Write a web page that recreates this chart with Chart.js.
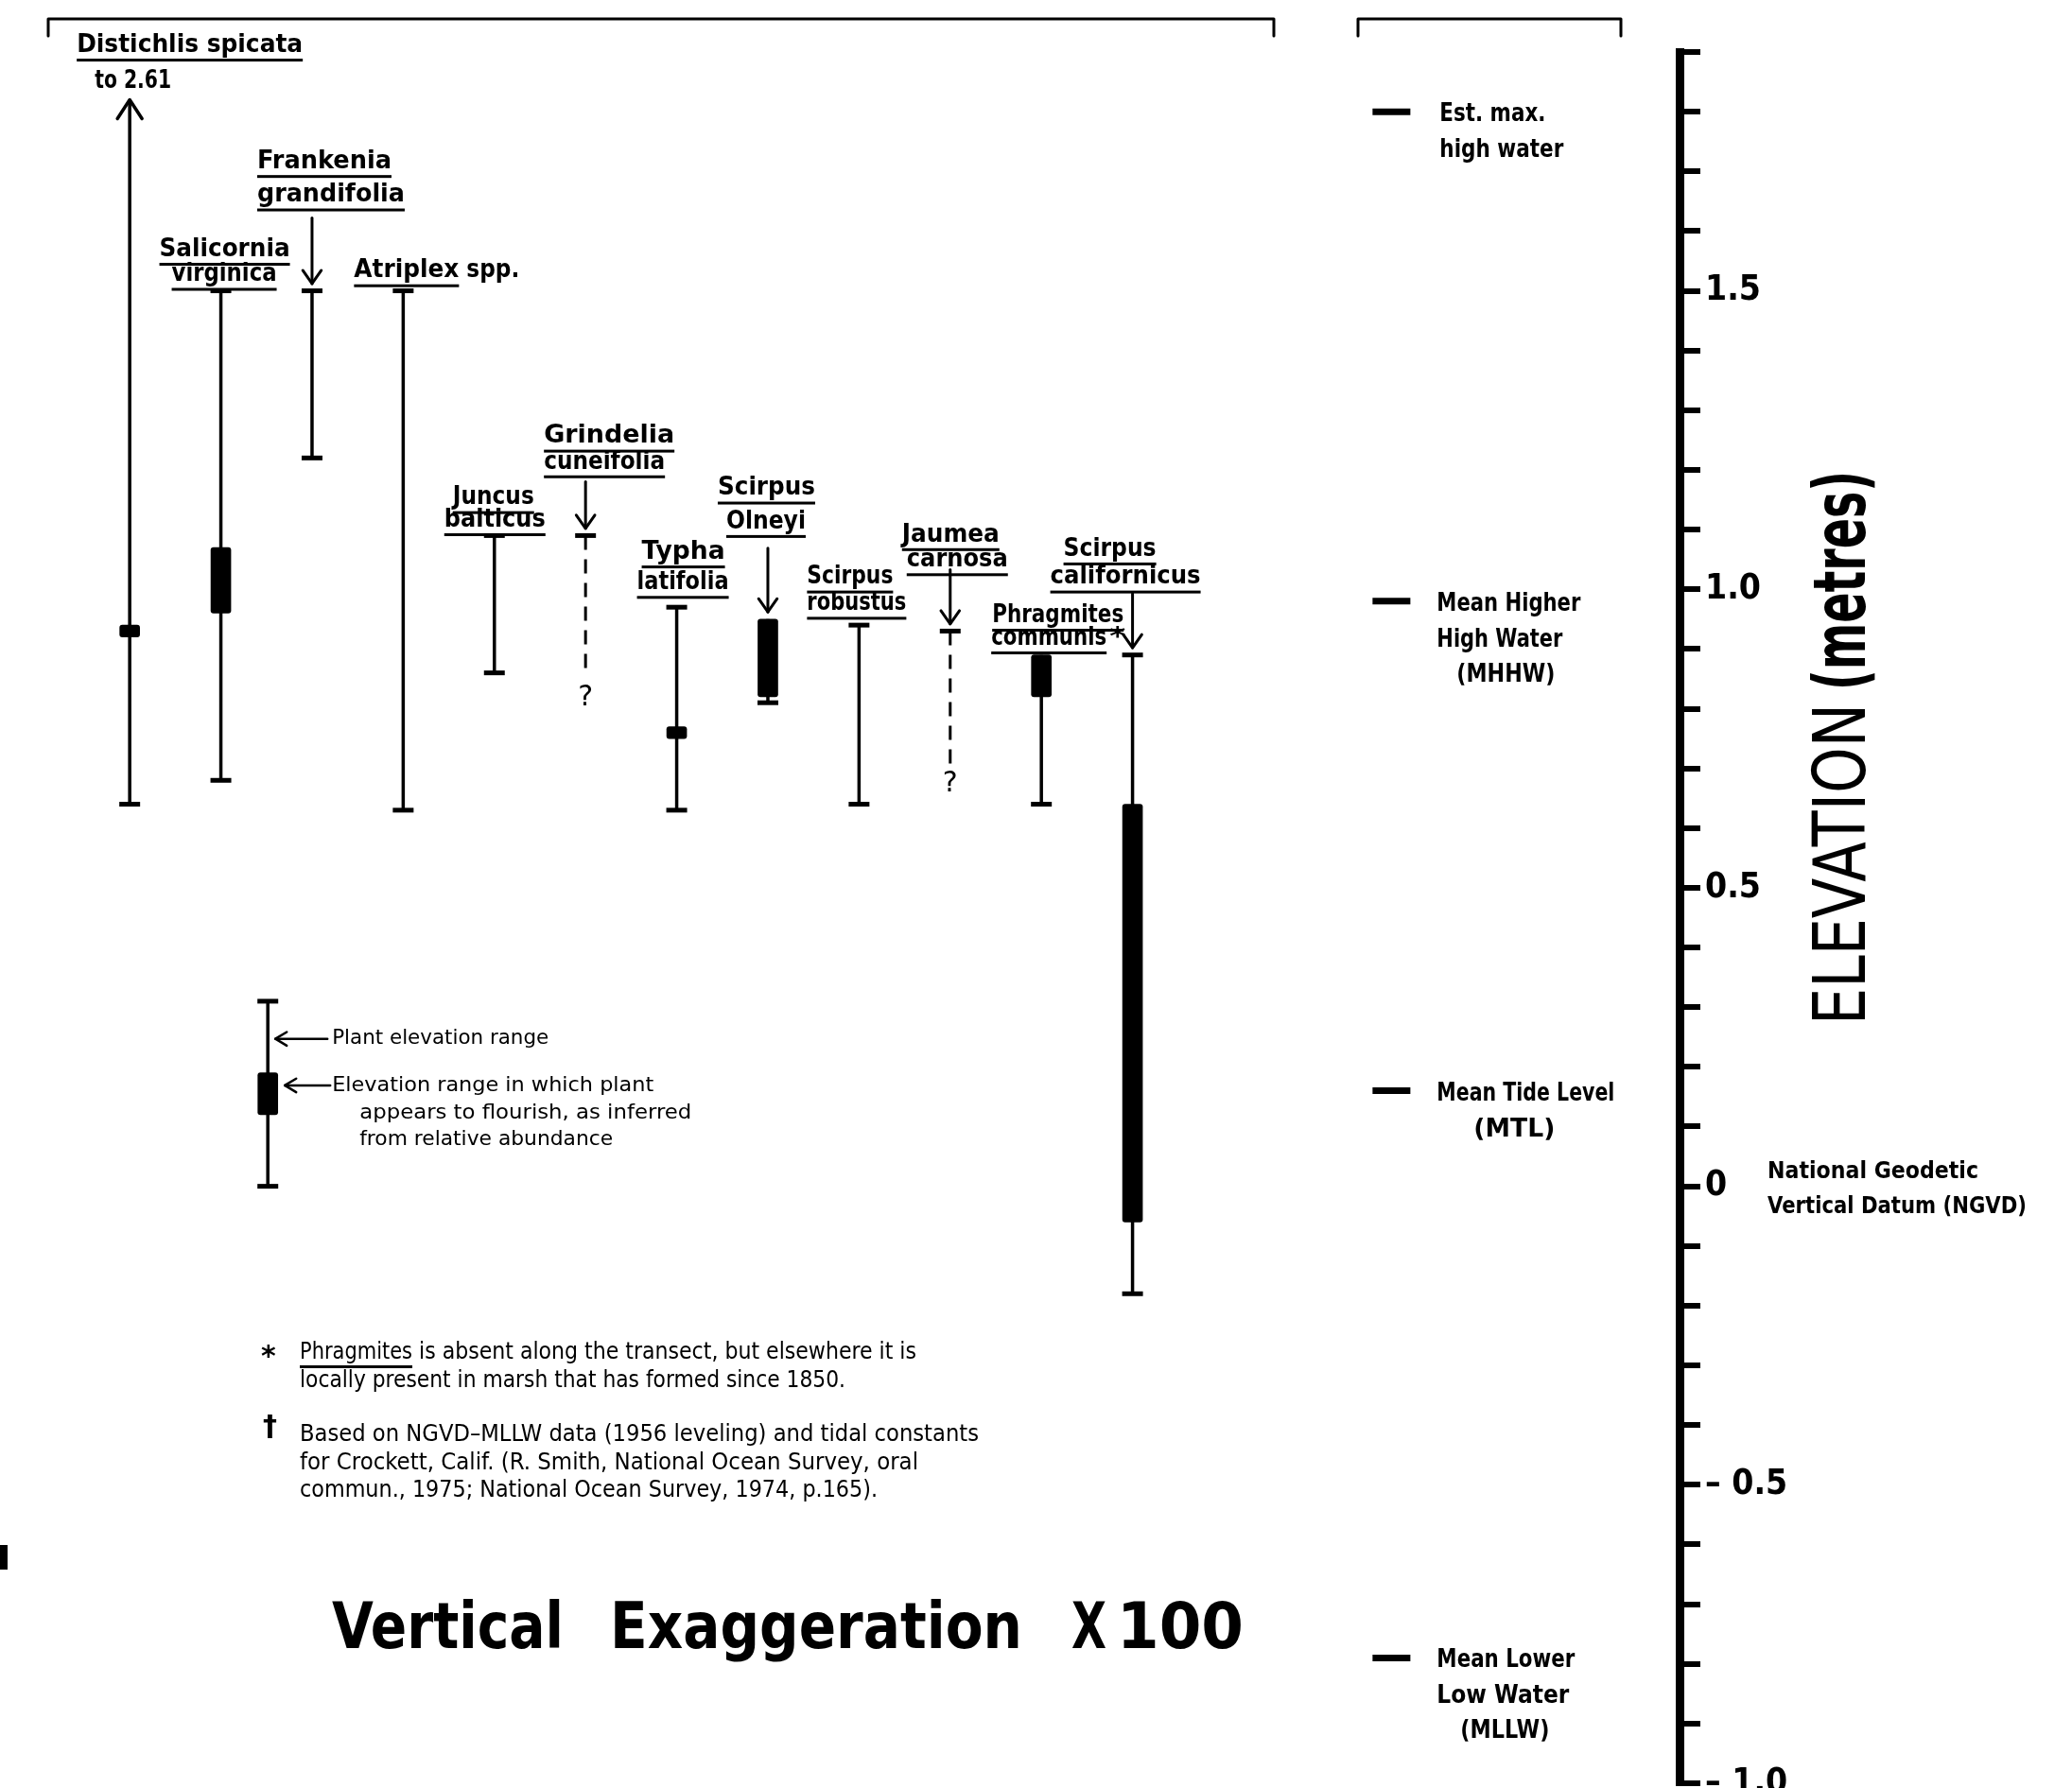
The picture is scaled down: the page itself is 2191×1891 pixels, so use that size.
<!DOCTYPE html>
<html>
<head>
<meta charset="utf-8">
<script src="https://cdn.jsdelivr.net/npm/chart.js@4/dist/chart.umd.min.js"></script>
<style>
html,body{margin:0;padding:0;background:#fff;}
#wrap{width:2191px;height:1891px;position:relative;overflow:hidden;background:#fff;}
canvas{display:block;}
</style>
</head>
<body>
<div id="wrap"><canvas id="c" width="2191" height="1891"></canvas></div>
<script>
// ---------------- DATA ----------------
const species = ['Distichlis spicata','Salicornia virginica','Frankenia grandifolia','Atriplex spp.',
  'Juncus balticus','Grindelia cuneifolia','Typha latifolia','Scirpus Olneyi','Scirpus robustus',
  'Jaumea carnosa','Phragmites communis','Scirpus californicus'];
// plant elevation range (metres, NGVD)
const rangeLow     = [0.64, 0.68, 1.22, 0.63, 0.86, null, 0.63, 0.81, 0.64, null, 0.64, -0.18];
const rangeHigh    = [2.61, 1.50, 1.50, 1.50, 1.09, 1.09, 0.97, 0.95, 0.94, 0.93, 0.89, 0.89];
// uncertain lower limit (dashed, "?")
const uncertainLow = [null, null, null, null, null, 0.86, null, null, null, 0.70, null, null];
// range in which plant appears to flourish
const flourishLow  = [0.92, 0.96, null, null, null, null, 0.75, 0.82, null, null, 0.82, -0.06];
const flourishHigh = [0.94, 1.07, null, null, null, null, 0.77, 0.95, null, null, 0.89, 0.64];
// tidal datums
const datumNames  = ['Est. max. high water','Mean Higher High Water (MHHW)','Mean Tide Level (MTL)','Mean Lower Low Water (MLLW)'];
const datumLines  = [['Est. max.','high water'],['Mean Higher','High Water','(MHHW)'],['Mean Tide Level','(MTL)'],['Mean Lower','Low Water','(MLLW)']];
const datumValues = [1.80, 0.98, 0.16, -0.79];
// y axis ticks
const yTickValues = [1.5, 1.0, 0.5, 0, -0.5, -1.0];
const yTickLabels = ['1.5', '1.0', '0.5', '0', '\u2013 0.5', '\u2013 1.0'];
// legend sample (explanation)
const legendRange    = [0.0, 0.31];
const legendFlourish = [0.12, 0.19];

// ---------------- LAYOUT / STYLE ----------------
const Y_MIN = -1.0, Y_MAX = 1.90;
const X_MIN = -1.4227, X_MAX = 17.0;
const DATUM_X = 13.84;
const LEGEND_X = 1.515;
const OFFSCALE_ARROW_TIP = 1.82;
const SPFONT = 'bold 26px "DejaVu Sans"';
// species label lines: [text, left offset px from column, width px, y value, underline]
const speciesLabels = [
  [['Distichlis spicata',-56,239,1.911,1],['to ' + rangeHigh[0].toFixed(2),-37,81,1.851,0]],
  [['Salicornia',-65,138,1.569,1],['virginica',-52,111,1.527,1]],
  [['Frankenia',-58,142,1.716,1],['grandifolia',-58,156,1.660,1]],
  [['Atriplex',-52,111,1.533,1],['spp.',67,56,1.533,0]],
  [['Juncus',-44,86,1.153,1],['balticus',-53,107,1.116,1]],
  [['Grindelia',-44,138,1.256,1],['cuneifolia',-44,128,1.213,1]],
  [['Typha',-37,88,1.062,1],['latifolia',-42,97,1.011,1]],
  [['Scirpus',-53,103,1.169,1],['Olneyi',-44,84,1.113,1]],
  [['Scirpus',-55,91,1.020,1],['robustus',-55,105,0.976,1]],
  [['Jaumea',-51,103,1.091,1],['carnosa',-46,107,1.049,1]],
  [['Phragmites',-52,139,0.956,1],['communis',-53,122,0.918,1],['*',72,17,0.918,0]],
  [['Scirpus',-73,98,1.067,1],['californicus',-87,159,1.020,1]]
];
// down-arrow start (value) from label to top of range
const arrowFrom = [null,null,1.622,null,null,1.18,null,1.069,null,1.033,null,0.993];
const questionAt = [null,null,null,null,null,0.818,null,null,null,0.673,null,null];
const datumTextLayout = [
  [[51,112],[51,131]],
  [[48,152],[48,133],[69,104]],
  [[48,188],[87,86]],
  [[48,146],[48,140],[73,94]]
];
const datumLineDy = [3, 41, 78];

// ---------------- DATASETS built from the arrays ----------------
const rangeData = [], uncData = [], capData = [], barData = [];
species.forEach((s, i) => {
  const top = Math.min(rangeHigh[i], OFFSCALE_ARROW_TIP);
  if (rangeLow[i] !== null) {
    rangeData.push({x: i, y: rangeLow[i]}, {x: i, y: top}, {x: i, y: null});
    capData.push({x: i, y: rangeLow[i]});
  }
  if (uncertainLow[i] !== null) {
    uncData.push({x: i, y: rangeHigh[i]}, {x: i, y: uncertainLow[i]}, {x: i, y: null});
  }
  if (rangeHigh[i] <= Y_MAX && flourishHigh[i] !== rangeHigh[i]) capData.push({x: i, y: rangeHigh[i]});
  if (flourishLow[i] !== null) barData.push({x: i, y: [flourishLow[i], flourishHigh[i]]});
});
// legend sample drawn through the same scales
rangeData.push({x: LEGEND_X, y: legendRange[0]}, {x: LEGEND_X, y: legendRange[1]}, {x: LEGEND_X, y: null});
capData.push({x: LEGEND_X, y: legendRange[0]}, {x: LEGEND_X, y: legendRange[1]});
barData.push({x: LEGEND_X, y: legendFlourish});
const datumData = datumValues.map(v => ({x: DATUM_X, y: v}));

// ---------------- helpers ----------------
function fitText(ctx, s, x, y, w, font, ul, ulOff) {
  ctx.save();
  ctx.font = font; ctx.textBaseline = 'middle'; ctx.textAlign = 'left'; ctx.fillStyle = '#000';
  const m = ctx.measureText(s).width;
  ctx.translate(x, y); ctx.scale(w / m, 1); ctx.fillText(s, 0, 0);
  ctx.restore();
  if (ul) { ctx.fillStyle = '#000'; ctx.fillRect(x, y + (ulOff || 15), w, 3); }
}
function arrowV(ctx, x, y1, y2, head) { // from y1 to y2, head at y2
  const dir = y2 > y1 ? 1 : -1;
  ctx.beginPath(); ctx.moveTo(x, y1); ctx.lineTo(x, y2); ctx.stroke();
  ctx.beginPath(); ctx.moveTo(x - head * 0.7, y2 - dir * head); ctx.lineTo(x, y2); ctx.lineTo(x + head * 0.7, y2 - dir * head); ctx.stroke();
}
function arrowH(ctx, x1, x2, y, head) { // head at x2 (pointing left)
  ctx.beginPath(); ctx.moveTo(x1, y); ctx.lineTo(x2, y); ctx.stroke();
  ctx.beginPath(); ctx.moveTo(x2 + head, y - head * 0.6); ctx.lineTo(x2, y); ctx.lineTo(x2 + head, y + head * 0.6); ctx.stroke();
}

const annotations = {
  id: 'annotations',
  afterDatasetsDraw(chart) {
    const ctx = chart.ctx, xs = chart.scales.x, ys = chart.scales.y;
    const X = u => xs.getPixelForValue(u), Y = v => ys.getPixelForValue(v);
    ctx.save();
    ctx.strokeStyle = '#000'; ctx.fillStyle = '#000'; ctx.lineCap = 'round'; ctx.lineJoin = 'round';

    // top brackets (frame remnants)
    ctx.lineWidth = 3;
    [[51, 1347], [1436, 1714]].forEach(([a, b]) => {
      ctx.beginPath(); ctx.moveTo(a, 38); ctx.lineTo(a, 20); ctx.lineTo(b, 20); ctx.lineTo(b, 38); ctx.stroke();
    });
    ctx.fillRect(0, 1634, 8, 26);

    // species labels
    species.forEach((s, i) => {
      const cx = X(i);
      speciesLabels[i].forEach(([t, dx, w, v, u]) => fitText(ctx, t, cx + dx, Y(v), w, SPFONT, u, 14));
      ctx.lineWidth = 3;
      if (arrowFrom[i] !== null) arrowV(ctx, cx, Y(arrowFrom[i]), Y(rangeHigh[i] + 0.012), 14);
      if (questionAt[i] !== null) {
        ctx.font = '30px "DejaVu Sans"'; ctx.textAlign = 'center'; ctx.textBaseline = 'middle';
        ctx.fillText('?', cx, Y(questionAt[i]));
      }
      if (rangeHigh[i] > Y_MAX) { // off-scale: up arrow
        const tip = Y(OFFSCALE_ARROW_TIP);
        ctx.lineWidth = 3.5;
        ctx.beginPath(); ctx.moveTo(cx - 13, tip + 20); ctx.lineTo(cx, tip); ctx.lineTo(cx + 13, tip + 20); ctx.stroke();
      }
    });

    // legend text
    const lx = X(LEGEND_X);
    ctx.lineWidth = 2.5;
    arrowH(ctx, lx + 63, lx + 8, Y(0.247), 12);
    arrowH(ctx, lx + 66, lx + 18, Y(0.169), 12);
    const LF = '22px "DejaVu Sans Condensed", "DejaVu Sans"';
    fitText(ctx, 'Plant elevation range', lx + 68, Y(0.247), 229, LF);
    fitText(ctx, 'Elevation range in which plant', lx + 68, Y(0.169), 340, LF);
    fitText(ctx, 'appears to flourish, as inferred', lx + 97, Y(0.122), 351, LF);
    fitText(ctx, 'from relative abundance', lx + 97, Y(0.078), 268, LF);

    // datum labels
    const DF = 'bold 27px "DejaVu Sans"';
    datumLines.forEach((lines, k) => {
      const dx0 = X(DATUM_X), dy0 = Y(datumValues[k]);
      lines.forEach((t, j) => fitText(ctx, t, dx0 + datumTextLayout[k][j][0], dy0 + datumLineDy[j], datumTextLayout[k][j][1], DF));
    });
    // NGVD label next to 0
    const y0 = Y(0);
    fitText(ctx, 'National Geodetic', 1869, y0 - 15, 223, 'bold 25px "DejaVu Sans"');
    fitText(ctx, 'Vertical Datum (NGVD)', 1869, y0 + 22, 274, 'bold 25px "DejaVu Sans"');

    // axis title (rotated, reads bottom to top)
    ctx.save();
    ctx.translate(1952, 1084); ctx.rotate(-Math.PI / 2);
    fitText(ctx, 'ELEVATION', 0, 0, 340, '76px "DejaVu Sans"');
    fitText(ctx, '(metres)', 354, 0, 232, 'bold 76px "DejaVu Sans"');
    ctx.restore();

    // footnotes
    const FF = '24px "DejaVu Sans Condensed", "DejaVu Sans"';
    ctx.font = 'bold 30px "DejaVu Sans"'; ctx.textAlign = 'left'; ctx.textBaseline = 'middle';
    ctx.fillText('*', 276, 1436);
    ctx.fillText('\u2020', 278, 1510);
    fitText(ctx, 'Phragmites', 317, 1431, 119, FF, 1, 13);
    fitText(ctx, ' is absent along the transect, but elsewhere it is', 436, 1431, 533, FF);
    fitText(ctx, 'locally present in marsh that has formed since 1850.', 317, 1461, 577, FF);
    fitText(ctx, 'Based on NGVD\u2013MLLW data (1956 leveling) and tidal constants', 317, 1518, 718, FF);
    fitText(ctx, 'for Crockett, Calif. (R. Smith, National Ocean Survey, oral', 317, 1548, 654, FF);
    fitText(ctx, 'commun., 1975; National Ocean Survey, 1974, p.165).', 317, 1577, 611, FF);

    // big caption
    const TF = 'bold 68px "DejaVu Sans"';
    fitText(ctx, 'Vertical', 351, 1725, 245, TF);
    fitText(ctx, 'Exaggeration', 645, 1725, 436, TF);
    fitText(ctx, 'X', 1133, 1725, 37, TF);
    fitText(ctx, '100', 1181, 1725, 134, TF);
    ctx.restore();
  }
};

function build() {
  const ctx = document.getElementById('c').getContext('2d');
  new Chart(ctx, {
    data: {
      datasets: [
        { type: 'bar', label: 'Elevation range in which plant appears to flourish', data: barData,
          backgroundColor: '#000', borderWidth: 0, barThickness: 21, borderRadius: 3, borderSkipped: false, grouped: false, order: 1 },
        { type: 'line', label: 'Plant elevation range', data: rangeData, borderColor: '#000', borderWidth: 3.5,
          pointRadius: 0, spanGaps: false, order: 2 },
        { type: 'line', label: 'Uncertain lower limit', data: uncData, borderColor: '#000', borderWidth: 3,
          borderDash: [15, 10], pointRadius: 0, spanGaps: false, order: 3 },
        { type: 'scatter', label: 'Range limits', data: capData, pointStyle: 'line', pointRadius: 11,
          pointBorderColor: '#000', pointBorderWidth: 5, order: 0 },
        { type: 'scatter', label: 'Tidal datums', data: datumData, pointStyle: 'line', pointRadius: 20,
          pointBorderColor: '#000', pointBorderWidth: 7, order: 0 }
      ]
    },
    options: {
      responsive: false, animation: false, devicePixelRatio: 1, events: [],
      layout: { autoPadding: false, padding: { top: 55, bottom: 5, left: 0, right: 0 } },
      plugins: { legend: { display: false }, tooltip: { enabled: false }, title: { display: false } },
      scales: {
        x: { type: 'linear', min: X_MIN, max: X_MAX, display: false, offset: false, grid: { offset: false } },
        y: {
          type: 'linear', position: 'right', min: Y_MIN, max: Y_MAX,
          afterFit: s => { s.width = 2191 - 1776; s.paddingTop = 0; s.paddingBottom = 0; },
          border: { display: true, color: '#000', width: 9 },
          grid: { drawOnChartArea: false, drawTicks: true, tickLength: 22, color: '#000', lineWidth: 6 },
          ticks: {
            stepSize: 0.1, autoSkip: false, padding: 5, color: '#000',
            font: { family: '"DejaVu Sans Condensed", "DejaVu Sans"', weight: 'bold', size: 37 },
            callback: v => { const k = yTickValues.findIndex(t => Math.abs(t - v) < 1e-6); return k >= 0 ? yTickLabels[k] : ''; }
          }
        }
      }
    },
    plugins: [annotations]
  });
}
const fontsToLoad = ['bold 26px "DejaVu Sans"', '22px "DejaVu Sans Condensed"', 'bold 37px "DejaVu Sans Condensed"', '24px "DejaVu Sans"'];
Promise.all(fontsToLoad.map(f => document.fonts.load(f).catch(() => null))).then(build, build);
</script>
</body>
</html>
